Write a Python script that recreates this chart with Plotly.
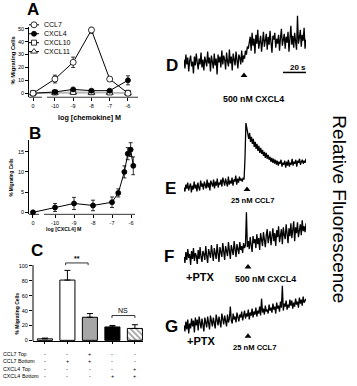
import plotly.graph_objects as go

W, H = 357, 386
FONT = "Liberation Sans, Arial, sans-serif"

# ---------------- data ----------------
# Panel A: log [chemokine] M
a_ticks = ["0", "-10", "-9", "-8", "-7", "-6"]
a_pos = [-11.2, -10, -9, -8, -7, -6]
ccl7 = [0, 11, 24, 49, 11, 0]
ccl7_err = [1, 3, 4, 2.5, 1.5, 1]
cxcl4 = [0, 1, 3, 2, 2, 10]
cxcl4_err = [0.5, 0.5, 0.6, 0.5, 0.5, 3.5]
cxcl10 = [0, 0.6, 1.0, 0.8, 0.6, 0.3]
cxcl10_err = [0.5, 0.6, 0.6, 0.6, 0.6, 0.5]
cxcl11 = [0, 0.3, 0.5, 0.3, 0.3, 0.0]
cxcl11_err = [0.5, 0.5, 0.5, 0.5, 0.5, 0.5]

# Panel B: log [CXCL4] M
b_ticks = ["0", "-10", "-9", "-8", "-7", "-6"]
b_tickpos = [-11.16, -10, -9, -8, -7, -6]
b_pos = [-11.16, -10, -9, -8, -7, -6.67, -6.35, -6.17, -6.02, -5.88]
b_val = [0, 1.2, 2.2, 1.7, 2.5, 4.8, 10, 14.5, 15.5, 11.5]
b_err = [0.2, 1.0, 1.5, 1.3, 1.3, 1.0, 1.5, 1.5, 1.7, 2.2]

# Panel C: bars
c_val = [2, 81, 31, 18, 16]
c_err = [1, 13, 5, 2, 5]
c_rows = ["CCL7", "CCL7", "CXCL4", "CXCL4"]
c_side = ["Top", "Bottom", "Top", "Bottom"]
c_signs = [["-", "-", "+", "-", "-"],
           ["-", "+", "+", "-", "-"],
           ["-", "-", "-", "-", "+"],
           ["-", "-", "-", "+", "+"]]

# Panels D-G: relative fluorescence traces
trace_d = [3, -6, 8, -2, 5, -9, 2, 7, -4, 1,
           -11, 6, -3, 9, 0, -7, 4, -2, 10, -5,
           3, -8, 6, 1, -4, 11, -1, 5, -9, 7,
           2, -6, 9, -3, 4, -12, 8, 0, 6, -5,
           12, -2, 7, 3, -7, 10, 1, -4, 13, -1,
           6, -8, 9, 4, -3, 11, 2, -6, 8, 5,
           -2, 12, 0, 7,
           4, 12, 8, 16, 14, 21,
           26, 12, 30, 17, 24, 9, 28, 19, 33, 14,
           22, 27, 11, 25, 31, 16, 21, 29, 13, 26,
           18, 32, 20, 10, 27, 23, 30, 15, 24, 19,
           28, 12, 25, 34, 17, 22, 29, 14, 26, 20,
           31, 11, 24, 37, 18, 27, 15, 30, 21, 13,
           47, 19, 25, 33, 16, 28, 22, 35, 14, 23]
trace_e = [0, -4, 3, -1, 5, -3, 1, 4, -5, 2,
           -2, 6, -1, 3, -4, 5, 0, -3, 7, 1,
           4, -2, 6, 2, -1, 8, 0, 5, -3, 7,
           3, 1, 8, -1, 6, 2, 9, 0, 5, 3,
           8, 1, 10, 4, 2, 9, 5, 1, 11, 3,
           7, 4, 10, 2, 8, 6, 12, 3, 9, 5,
           11, 7, 9, 6, 10, 8,
           30, 65, 60,
           54, 49, 55, 46, 51, 44, 49, 41, 46, 39,
           44, 37, 42, 35, 40, 34, 38, 32, 36, 30,
           35, 29, 33, 28, 31, 26, 30, 25, 29, 24,
           28, 23, 27, 22, 26, 24, 28, 21, 25, 23,
           27, 20, 26, 22, 28, 21, 25, 23, 29, 22,
           26, 24, 28, 21, 27, 25, 29, 23, 26, 28,
           24, 27, 25, 29]
trace_f = [0, -6, 5, -3, 8, -1, 3, -8, 6, -2,
           9, -4, 4, 1, -7, 7, -2, 10, 0, -5,
           6, 3, -3, 11, 1, -6, 8, 4, -1, 12,
           2, -4, 9, 5, -2, 13, 3, -5, 10, 6,
           0, 14, 4, -3, 11, 7, 1, 15, 5, -2,
           12, 8, 2, 16, 6, 0, 13, 9, 3, 15,
           7, 11, 4, 14, 9, 12,
           45, 10,
           16, 8, 20, 12, 5, 21, 14, 18, 9, 23,
           13, 19, 7, 24, 15, 11, 25, 17, 10, 22,
           28, 14, 19, 26, 12, 21, 29, 16, 24, 11,
           27, 20, 31, 15, 23, 28, 13, 30, 22, 18,
           33, 25, 14, 29, 21, 34, 19, 27, 36, 16,
           30, 24, 35, 20, 28, 33, 22, 37, 26, 31,
           25, 34]
trace_g = [0, -6, 4, -4, 6, -8, 2, -3, 7, -1,
           5, -7, 8, 0, 6, -5, 9, 1, -3, 7,
           2, -6, 8, 3, -2, 9, 0, -4, 10, 4,
           -1, 8, 2, -3, 11, 5, 0, 9, 3, -2,
           12, 4, 1, 10, 6, -1, 11, 3, 7, 19,
           5, 2, 12, 6, 9, 3, 13, 7, 4, 11,
           8, 14, 5, 10, 15, 7, 12, 9, 16, 6,
           13, 10, 17, 8, 14, 11, 18, 9, 15, 12,
           19, 10, 27, 13, 17, 11, 20, 14, 16, 12,
           21, 15, 18, 13, 22, 16, 19, 12, 23, 17,
           20, 14, 24, 18, 40, 15, 22, 19, 25, 16,
           21, 18, 26, 20, 25, 17, 23, 19, 27, 21,
           24, 18, 28, 22, 26, 20, 29, 23, 25, 27]

legend_names = ["CCL7", "CXCL4", "CXCL10", "CXCL11"]


# ---------------- helpers ----------------
def px(x):
    return x / W


def py(y):
    return 1 - y / H


fig = go.Figure()

errA = dict(type="data", color="black", thickness=0.8, width=2)


def sc(x, y, err, sym, fill, line_color, size, axis):
    e = dict(errA, array=err)
    return go.Scatter(x=x, y=y, mode="lines+markers", xaxis=axis[0], yaxis=axis[1],
                      error_y=e, cliponaxis=False,
                      line=dict(color=line_color, width=1),
                      marker=dict(symbol=sym, size=size, color=fill,
                                  line=dict(color="black", width=0.8)))


# Panel A
fig.add_trace(sc(a_pos, cxcl11, cxcl11_err, "triangle-up", "white", "#9a9a9a", 6, ("x", "y")))
fig.add_trace(sc(a_pos, cxcl10, cxcl10_err, "square", "white", "#b0b0b0", 5, ("x", "y")))
fig.add_trace(sc(a_pos, cxcl4, cxcl4_err, "circle", "black", "black", 5, ("x", "y")))
fig.add_trace(sc(a_pos, ccl7, ccl7_err, "circle", "white", "black", 6, ("x", "y")))

# Panel B
fig.add_trace(sc(b_pos, b_val, b_err, "circle", "black", "black", 5, ("x2", "y2")))

# Panel C
fig.add_trace(go.Bar(x=list(range(len(c_val))), y=c_val, xaxis="x3", yaxis="y3", width=0.67,
                     marker=dict(color=["white", "white", "#a6a6a6", "black", "white"],
                                 line=dict(color="black", width=1),
                                 pattern=dict(shape=["", "", "", "", "\\"], fgcolor="black",
                                              bgcolor="white", size=4, solidity=0.45)),
                     error_y=dict(type="data", array=c_err, arrayminus=[0] * len(c_err),
                                  symmetric=False, color="black", thickness=1, width=3)))

# Panels D-G
for tr, ax in [(trace_d, "4"), (trace_e, "5"), (trace_f, "6"), (trace_g, "7")]:
    fig.add_trace(go.Scatter(x=list(range(len(tr))), y=tr, mode="lines",
                             xaxis="x" + ax, yaxis="y" + ax,
                             line=dict(color="black", width=1.3)))

# Overlay (pixel) axis: legend symbols, arrowheads, scale bar
leg_y = [24, 33, 42, 51]
leg_style = [("circle", "white", "black", 6), ("circle", "black", "black", 5),
             ("square", "white", "#b0b0b0", 5), ("triangle-up", "white", "#9a9a9a", 6)]
for yy, (sym, fill, lc, sz) in zip(leg_y, leg_style):
    fig.add_trace(go.Scatter(x=[29, 39], y=[yy, yy], mode="lines", xaxis="x8", yaxis="y8",
                             line=dict(color="black", width=1)))
    fig.add_trace(go.Scatter(x=[34], y=[yy], mode="markers", xaxis="x8", yaxis="y8",
                             marker=dict(symbol=sym, size=sz, color=fill,
                                         line=dict(color="black", width=0.8))))
fig.add_trace(go.Scatter(x=[244, 247, 248, 248], y=[75, 190, 268, 338], mode="markers",
                         xaxis="x8", yaxis="y8",
                         marker=dict(symbol="triangle-up", size=6, color="black")))
fig.add_trace(go.Scatter(x=[283, 306], y=[72, 72], mode="lines", xaxis="x8", yaxis="y8",
                         line=dict(color="black", width=1.5)))

# ---------------- axes ----------------
tick_font = dict(family=FONT, size=5.5, color="black")
base = dict(showgrid=False, zeroline=False, ticks="outside", ticklen=3, tickwidth=0.8,
            tickcolor="black", tickfont=tick_font, fixedrange=True)

fig.update_layout(
    xaxis=dict(base, domain=[px(29), px(138)], range=[-11.42, -5.45], tickvals=a_pos,
               ticktext=a_ticks, showline=False, anchor="y"),
    yaxis=dict(base, domain=[py(97), py(26)], range=[-3.1, 51.5],
               tickvals=[0, 10, 20, 30, 40, 50], showline=True, linewidth=0.8,
               linecolor="black", anchor="x"),
    xaxis2=dict(base, domain=[px(29), px(135)], range=[-11.37, -5.79], tickvals=b_tickpos,
                ticktext=b_ticks, showline=False, anchor="y2"),
    yaxis2=dict(base, domain=[py(215), py(140)], range=[-0.49, 17.9],
                tickvals=[0, 5, 10, 15], showline=True, linewidth=0.8,
                linecolor="black", anchor="x2"),
    xaxis3=dict(base, domain=[px(33), px(143)], range=[-0.53, 4.36],
                tickvals=[0, 1, 2, 3, 4], ticktext=[""] * 5, ticklen=2, showline=True,
                linewidth=1, linecolor="black", anchor="y3"),
    yaxis3=dict(base, domain=[py(343), py(255)], range=[-1.33, 116],
                tickvals=[0, 20, 40, 60, 80, 100], showline=False, anchor="x3"),
)
dom_x = [px(184), px(306)]
for ax, tr, top, bot, rng in [("4", trace_d, 10, 85, [-23, 52]),
                              ("5", trace_e, 115, 200, [-12, 73]),
                              ("6", trace_f, 205, 272, [-14, 53]),
                              ("7", trace_g, 282, 345, [-18, 45])]:
    fig.update_layout(**{
        "xaxis" + ax: dict(domain=dom_x, range=[0, len(tr) - 1], visible=False,
                           anchor="y" + ax, fixedrange=True),
        "yaxis" + ax: dict(domain=[py(bot), py(top)], range=rng, visible=False,
                           anchor="x" + ax, fixedrange=True),
    })
fig.update_layout(
    xaxis8=dict(domain=[0, 1], range=[0, W], visible=False, anchor="y8", fixedrange=True),
    yaxis8=dict(domain=[0, 1], range=[H, 0], visible=False, anchor="x8", fixedrange=True),
)

# ---------------- shapes ----------------
ln = dict(color="black", width=0.8)
shapes = [
    dict(type="line", xref="x", yref="y domain", x0=-11.42, x1=-10.71, y0=0, y1=0, line=ln),
    dict(type="line", xref="x", yref="y domain", x0=-10.44, x1=-5.45, y0=0, y1=0, line=ln),
    dict(type="line", xref="x2", yref="y2 domain", x0=-11.37, x1=-10.84, y0=0, y1=0, line=ln),
    dict(type="line", xref="x2", yref="y2 domain", x0=-10.58, x1=-5.79, y0=0, y1=0, line=ln),
    dict(type="line", xref="x3 domain", yref="y3", x0=0, x1=0, y0=-1.33, y1=101.3,
         line=dict(color="black", width=1)),
    # significance brackets
    dict(type="path", xref="x3", yref="y3", path="M 0.92,101 L 0.92,104 L 1.92,104 L 1.92,101",
         line=dict(color="black", width=0.8)),
    dict(type="path", xref="x3", yref="y3", path="M 2.98,30 L 2.98,33.3 L 4.0,33.3 L 4.0,30",
         line=dict(color="black", width=0.8)),
]
fig.update_layout(shapes=shapes)

# ---------------- annotations ----------------
anns = []


def ann(text, x, y, size, bold=False, xanchor="center", angle=0, xref="paper"):
    t = "<b>%s</b>" % text if bold else text
    anns.append(dict(text=t, x=(px(x) if xref == "paper" else x), y=py(y), xref=xref,
                     yref="paper", showarrow=False, xanchor=xanchor, yanchor="middle",
                     textangle=angle, font=dict(family=FONT, size=size, color="black")))


# panel letters
ann("A", 33, 9, 17, True)
ann("B", 35, 134, 17, True)
ann("C", 37, 251, 17, True)
ann("D", 172, 65, 17, True)
ann("E", 170, 189, 17, True)
ann("F", 169, 258, 17, True)
ann("G", 171, 328, 17, True)

# axis titles
ann("% Migrating Cells", 13, 60, 5.8, True, angle=-90)
ann("log [chemokine] M", 89, 117, 7.2, True)
ann("% Migrating Cells", 12, 178, 4.6, True, angle=-90)
ann("log [CXCL4] M", 63, 230, 5.2, True)
ann("% Migrating Cells", 17, 315, 5.0, True, angle=-90)

# legend labels
for yy, name in zip(leg_y, legend_names):
    ann(name, 42, yy, 7, False, xanchor="left")

# significance labels
ann("**", 77, 260, 7, True)
ann("NS", 123, 312, 7, False)

# condition table
table_y = [356, 363, 371, 378]
for yy, nm, side, signs in zip(table_y, c_rows, c_side, c_signs):
    ann(nm, 1, yy, 5.3, False, xanchor="left")
    ann(side, 16 if nm == "CCL7" else 19.5, yy, 5.3, False, xanchor="left")
    for i, s in enumerate(signs):
        anns.append(dict(text=s, x=i, y=py(yy), xref="x3", yref="paper", showarrow=False,
                         xanchor="center", yanchor="middle",
                         font=dict(family=FONT, size=5.5, color="black")))

# trace labels
ann("20 s", 298, 67, 8, True)
ann("500 nM CXCL4", 253, 99, 8.8, True)
ann("25 nM CCL7", 252, 201, 7.6, True)
ann("+PTX", 200, 278, 11, True)
ann("500 nM CXCL4", 265, 280, 8.8, True)
ann("+PTX", 201, 343, 11, True)
ann("25 nM CCL7", 254, 349, 7.6, True)
ann("Relative Fluorescence", 340, 210, 19, False, angle=90)

fig.update_layout(annotations=anns, width=W, height=H, autosize=False,
                  margin=dict(l=0, r=0, t=0, b=0), paper_bgcolor="white",
                  plot_bgcolor="rgba(0,0,0,0)", showlegend=False)

fig.write_html("out.html", config={"displayModeBar": False})
